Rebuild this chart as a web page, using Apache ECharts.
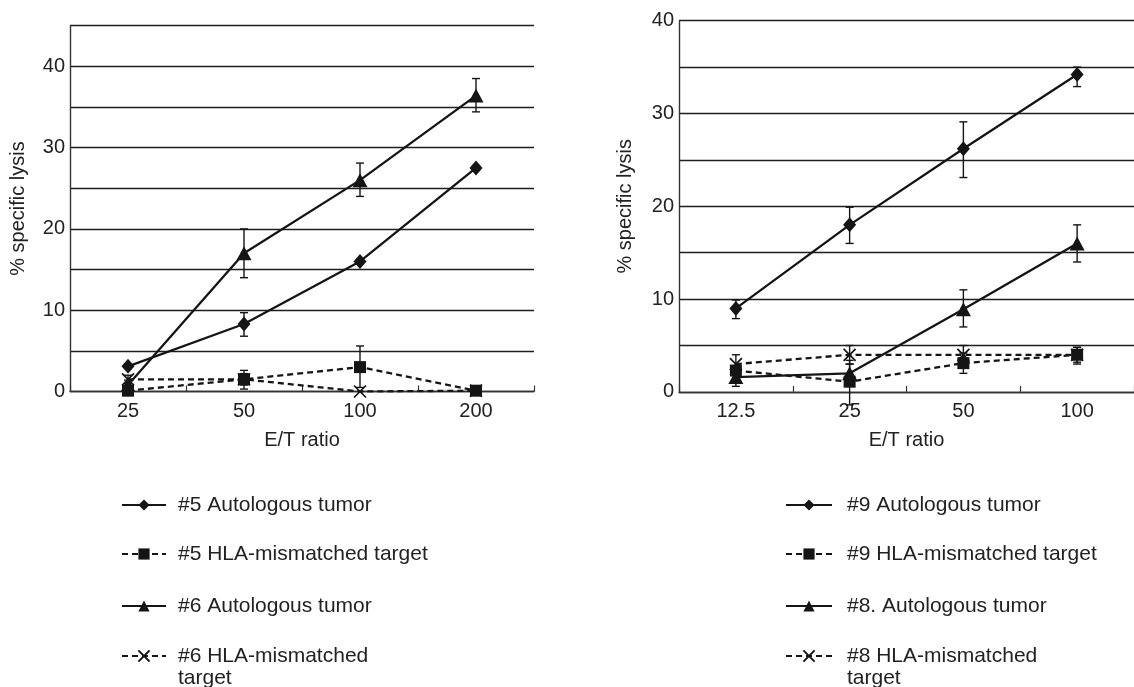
<!DOCTYPE html>
<html>
<head>
<meta charset="utf-8">
<title>% specific lysis vs E/T ratio</title>
<script src="https://cdn.jsdelivr.net/npm/echarts@6/dist/echarts.min.js"></script>
<style>
  html, body { margin: 0; padding: 0; background: #fff; }
  #main { width: 1134px; height: 687px; }
</style>
</head>
<body>
<div id="main"></div>
<script>
// 左图：E/T 比例
var leftCats = ['25', '50', '100', '200'];
// 右图：E/T 比例
var rightCats = ['12.5', '25', '50', '100'];

// 左图数据（均值 + 误差棒 [下, 上]）
var p5Auto = [3.1, 8.3, 16.0, 27.5];
var p5AutoErr = [null, [6.8, 9.7], [15.7, 16.3], [27.2, 27.8]];
var p5Mis = [0.1, 1.5, 3.0, 0.1];
var p5MisErr = [null, [0.3, 2.6], [0.5, 5.6], null];
var p6Auto = [0.8, 17.0, 26.0, 36.4];
var p6AutoErr = [[0.3, 1.4], [14.0, 20.0], [24.0, 28.1], [34.4, 38.5]];
var p6Mis = [1.5, 1.5, 0.0, 0.1];
var p6MisErr = [[1.0, 2.0], [0.8, 2.2], null, null];

// 右图数据
var p9Auto = [9.0, 18.0, 26.2, 34.2];
var p9AutoErr = [[7.9, 9.9], [16.0, 19.9], [23.1, 29.1], [32.9, 35.0]];
var p9Mis = [2.3, 1.1, 3.1, 4.0];
var p9MisErr = [[1.8, 2.8], [-1.4, 3.4], [2.0, 4.2], [3.0, 4.8]];
var p8Auto = [1.6, 2.0, 8.9, 16.0];
var p8AutoErr = [[0.6, 2.6], [1.0, 3.0], [7.0, 11.0], [14.0, 18.0]];
var p8Mis = [3.0, 4.0, 4.0, 4.0];
var p8MisErr = [[2.2, 4.0], [3.0, 5.0], [3.2, 5.0], [3.2, 4.8]];

// 图例名称
var leftNames = ['#5 Autologous tumor', '#5 HLA-mismatched target', '#6 Autologous tumor', '#6 HLA-mismatched\ntarget'];
var rightNames = ['#9 Autologous tumor', '#9 HLA-mismatched target', '#8. Autologous tumor', '#8 HLA-mismatched\ntarget'];

// y 轴刻度
var leftYMax = 45;
var rightYMax = 40;
var yStep = 5;

(function () {
  var myChart = echarts.init(document.getElementById('main'));

  var ink = '#151515';
  var font = "'Liberation Sans', Arial, Helvetica, sans-serif";
  var crossPath = 'path://M0,0L10,10M10,0L0,10';

  //误差棒
  function errorSeries(axisIndex, errs) {
    var data = [];
    errs.forEach(function (e, i) {
      if (e) data.push([i, e[0], e[1]]);
    });
    return {
      type: 'custom',
      xAxisIndex: axisIndex,
      yAxisIndex: axisIndex,
      silent: true,
      clip: false,
      z: 1,
      renderItem: function (params, api) {
        var top = api.coord([api.value(0), api.value(2)]);
        var bot = api.coord([api.value(0), api.value(1)]);
        var w = 4;
        var st = { stroke: ink, lineWidth: 1.4 };
        return {
          type: 'group',
          children: [
            { type: 'line', shape: { x1: top[0], y1: top[1], x2: bot[0], y2: bot[1] }, style: st },
            { type: 'line', shape: { x1: top[0] - w, y1: top[1], x2: top[0] + w, y2: top[1] }, style: st },
            { type: 'line', shape: { x1: bot[0] - w, y1: bot[1], x2: bot[0] + w, y2: bot[1] }, style: st }
          ]
        };
      },
      data: data
    };
  }

  //折线
  function lineSeries(axisIndex, name, data, symbol, size, dashed) {
    return {
      name: name,
      type: 'line',
      xAxisIndex: axisIndex,
      yAxisIndex: axisIndex,
      data: data,
      symbol: symbol,
      symbolSize: size,
      showAllSymbol: true,
      z: 3,
      lineStyle: { color: ink, width: 2.3, type: dashed ? [6, 4] : 'solid' },
      itemStyle: { color: ink, borderColor: ink, borderWidth: symbol === crossPath ? 1.7 : 0 }
    };
  }

  function xAxisOpt(gridIndex, cats) {
    return {
      type: 'category',
      gridIndex: gridIndex,
      data: cats,
      name: 'E/T ratio',
      nameLocation: 'middle',
      nameGap: 39,
      nameTextStyle: { color: '#222', fontSize: 20, fontFamily: font },
      axisLine: { lineStyle: { color: '#333', width: 1.4 } },
      axisTick: { show: true, inside: true, length: 6, lineStyle: { color: '#333', width: 1.2 } },
      axisLabel: { color: '#222', fontSize: 20, fontFamily: font, margin: 10 },
      splitLine: { show: false }
    };
  }

  function yAxisOpt(gridIndex, max, gap) {
    return {
      type: 'value',
      gridIndex: gridIndex,
      min: 0,
      max: max,
      interval: yStep,
      name: '% specific lysis',
      nameLocation: 'middle',
      nameGap: gap,
      nameTextStyle: { color: '#222', fontSize: 20, fontFamily: font },
      axisLine: { show: true, lineStyle: { color: '#333', width: 1.4 } },
      axisTick: { show: false },
      axisLabel: {
        color: '#222', fontSize: 20, fontFamily: font, margin: 5,
        formatter: function (v) { return v % 10 === 0 ? String(v) : ''; }
      },
      splitLine: { lineStyle: { color: '#1e1e1e', width: 1.4 } }
    };
  }

  //每个图例单独定位
  var rowY = [505, 554, 606, 656];
  function legendItem(left, iconW, textPad, name, row) {
    var multi = name.indexOf('\n') >= 0;
    return {
      show: true,
      orient: 'vertical',
      left: left,
      top: rowY[row] - (multi ? 33 : 11),
      padding: 0,
      itemWidth: iconW,
      itemHeight: 14,
      selectedMode: false,
      data: [name],
      // 两行的图例：首行与图标对齐
      formatter: multi ? function (n) { return '\n' + n; } : null,
      textStyle: { color: '#222', fontSize: 21, lineHeight: 22, fontFamily: font, padding: [0, 0, 0, textPad] }
    };
  }

  var legends = [];
  leftNames.forEach(function (n, i) { legends.push(legendItem(121, 44, 7, n, i)); });
  rightNames.forEach(function (n, i) { legends.push(legendItem(785, 46, 10, n, i)); });

  var option = {
    animation: false,
    backgroundColor: '#fff',
    textStyle: { fontFamily: font },
    grid: [
      { left: 70, top: 25.7, width: 464, height: 365.8 },
      { left: 679, top: 20.7, width: 465, height: 371.2 }
    ],
    xAxis: [xAxisOpt(0, leftCats), xAxisOpt(1, rightCats)],
    yAxis: [yAxisOpt(0, leftYMax, 42), yAxisOpt(1, rightYMax, 44)],
    legend: legends,
    series: [
      lineSeries(0, leftNames[0], p5Auto, 'diamond', [13, 15], false),
      lineSeries(0, leftNames[1], p5Mis, 'rect', 12, true),
      lineSeries(0, leftNames[2], p6Auto, 'triangle', [15, 14], false),
      lineSeries(0, leftNames[3], p6Mis, crossPath, 12, true),
      errorSeries(0, p5AutoErr),
      errorSeries(0, p5MisErr),
      errorSeries(0, p6AutoErr),
      errorSeries(0, p6MisErr),
      lineSeries(1, rightNames[0], p9Auto, 'diamond', [13, 15], false),
      lineSeries(1, rightNames[1], p9Mis, 'rect', 12, true),
      lineSeries(1, rightNames[2], p8Auto, 'triangle', [15, 14], false),
      lineSeries(1, rightNames[3], p8Mis, crossPath, 12, true),
      errorSeries(1, p9AutoErr),
      errorSeries(1, p9MisErr),
      errorSeries(1, p8AutoErr),
      errorSeries(1, p8MisErr)
    ]
  };

  myChart.setOption(option);

  window.addEventListener('resize', function () {
    myChart.resize();
  });
})();
</script>
</body>
</html>
